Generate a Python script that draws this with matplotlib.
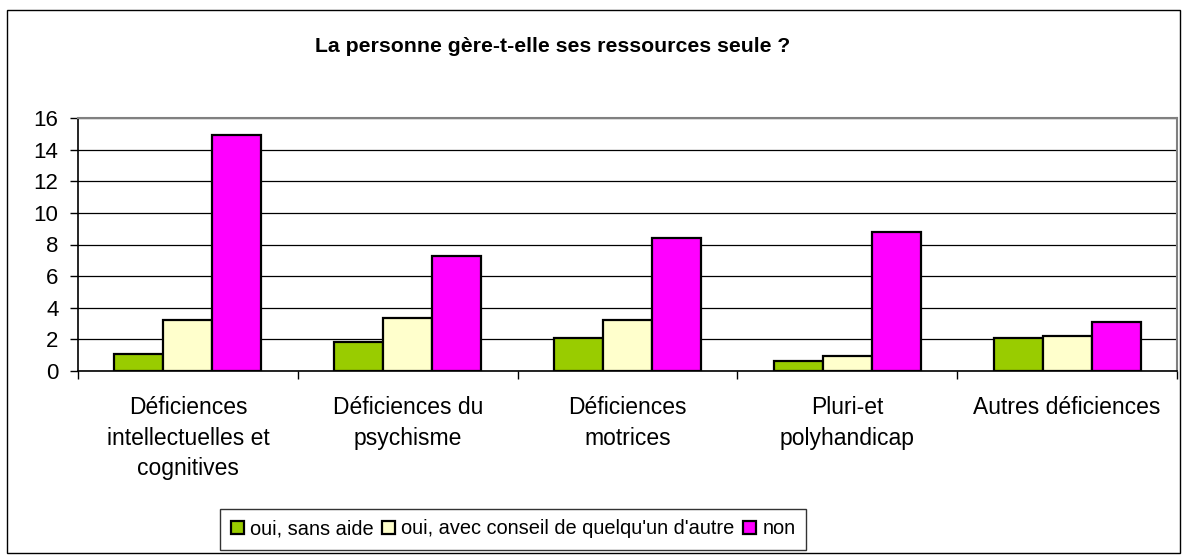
import matplotlib.pyplot as plt
import numpy as np
from matplotlib.patches import Rectangle

plt.rcParams['font.family'] = ['Liberation Sans', 'DejaVu Sans']

categories = ["Déficiences\nintellectuelles et\ncognitives", "Déficiences du\npsychisme",
              "Déficiences\nmotrices", "Pluri-et\npolyhandicap", "Autres déficiences"]
series_names = ["oui, sans aide", "oui, avec conseil de quelqu'un d'autre", "non"]
sans_aide = [1.1, 1.85, 2.07, 0.63, 2.07]
avec_conseil = [3.2, 3.33, 3.2, 0.97, 2.23]
non = [14.9, 7.3, 8.44, 8.78, 3.12]
colors = ["#99CC00", "#FFFFCC", "#FF00FF"]

W, H = 1183, 559
fig = plt.figure(figsize=(W / 100, H / 100), dpi=100)
ax = fig.add_axes([78 / W, 1 - 371 / H, (1177 - 78) / W, (371 - 118) / H])

x = np.arange(len(categories))
bw = 0.223
for i, (vals, name) in enumerate(zip([sans_aide, avec_conseil, non], series_names)):
    ax.bar(x + (i - 1) * bw, vals, bw, color=colors[i], edgecolor='black',
           linewidth=1.6, label=name, zorder=3)

ax.set_xlim(-0.5, len(categories) - 0.5)
ax.set_ylim(0, 16)
ax.set_yticks(np.arange(0, 17, 2))
ax.yaxis.grid(True, color='black', linewidth=0.9, zorder=0)
ax.tick_params(axis='y', labelsize=16, length=6, width=1, pad=8, direction='out')

# category boundaries as major ticks, labels on minor ticks
ax.set_xticks(np.arange(-0.5, len(categories), 1))
ax.set_xticklabels([])
ax.tick_params(axis='x', which='major', length=6, width=1, direction='out')
ax.set_xticks(x, minor=True)
ax.set_xticklabels(categories, minor=True, fontsize=16.5, linespacing=1.42)
ax.tick_params(axis='x', which='minor', length=0, pad=18)

for s in ['top', 'right']:
    ax.spines[s].set_color('#808080')
    ax.spines[s].set_linewidth(1.5)
for s in ['left', 'bottom']:
    ax.spines[s].set_color('black')
    ax.spines[s].set_linewidth(1.2)

fig.text(553 / W, 1 - 47 / H, "La personne gère-t-elle ses ressources seule ?",
         ha='center', va='center', fontsize=15.3, fontweight='bold')

leg = fig.legend(loc='center', bbox_to_anchor=(513 / W, 1 - 529 / H), ncol=3,
                 fontsize=14.4, frameon=True, fancybox=False, edgecolor='black',
                 handlelength=0.68, handleheight=0.68, handletextpad=0.3,
                 columnspacing=0.4, borderpad=0.55)
leg.get_frame().set_linewidth(1)

fig.patches.append(Rectangle((7 / W, 1 - 553 / H), (1180 - 7) / W, (553 - 10) / H,
                             transform=fig.transFigure, fill=False,
                             edgecolor='black', linewidth=1))

fig.savefig('out.png', dpi=100)
